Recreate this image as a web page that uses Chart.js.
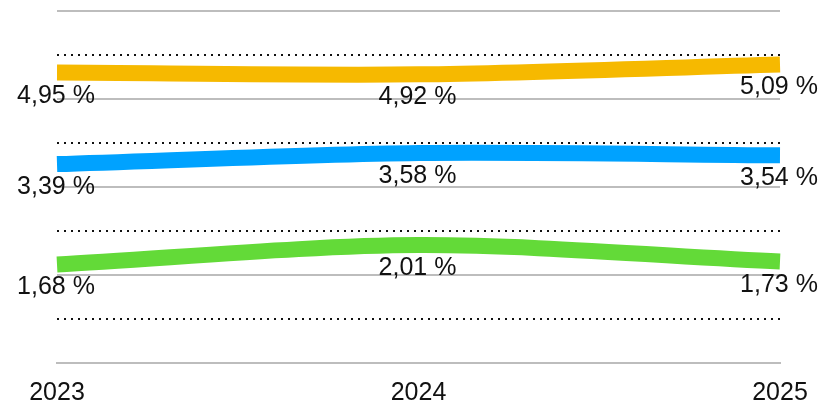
<!DOCTYPE html>
<html>
  <head>
    <meta charset="UTF-8">
    <title>Chart</title>
    <script src="https://cdn.jsdelivr.net/npm/chart.js@4.4.0/dist/chart.umd.min.js"></script>
    <style>
      body { margin: 0; background: #fff; }
      #wrap { width: 823px; height: 405px; }
    </style>
  </head>
  <body>
    <div id="wrap"><canvas id="chart"></canvas></div>
    <script>
      const years = ['2023', '2024', '2025']
      const yellowValues = [4.95, 4.92, 5.09]
      const blueValues = [3.39, 3.58, 3.54]
      const greenValues = [1.68, 2.01, 1.73]

      const fontFamily = '"Liberation Sans", Arial, Helvetica, sans-serif'

      const fmt = v => v.toFixed(2).replace('.', ',') + ' %'

      // labels under each point
      const pointLabels = {
        id: 'pointLabels',
        afterDatasetsDraw(chart) {
          const ctx = chart.ctx
          ctx.save()
          ctx.font = '25px ' + fontFamily
          ctx.fillStyle = '#111'
          ctx.textAlign = 'center'
          ctx.textBaseline = 'alphabetic'
          chart.data.datasets.forEach((ds, i) => {
            chart.getDatasetMeta(i).data.forEach((pt, j) => {
              ctx.fillText(fmt(ds.data[j]), pt.x - 1, pt.y + 30)
            })
          })
          ctx.restore()
        }
      }

      const line = (data, color) => ({
        data: data,
        borderColor: color,
        backgroundColor: color,
        borderWidth: 16,
        pointRadius: 0,
        tension: 0.3,
        fill: false
      })

      new Chart(document.getElementById('chart'), {
        type: 'line',
        data: {
          labels: years,
          datasets: [
            line(yellowValues, '#F6B900'),
            line(blueValues, '#00A2FF'),
            line(greenValues, '#63DA38')
          ]
        },
        options: {
          responsive: true,
          maintainAspectRatio: false,
          animation: false,
          layout: { padding: { left: 57, right: 43, top: 11, bottom: 0 } },
          plugins: {
            legend: { display: false },
            tooltip: { enabled: false }
          },
          scales: {
            x: {
              offset: false,
              grid: { display: false, drawTicks: false },
              border: { display: true, color: '#bdbdbd', width: 2 },
              afterFit: s => { s.height = 42 },
              ticks: {
                padding: 15,
                color: '#111',
                font: { family: fontFamily, size: 25 },
                maxRotation: 0
              }
            },
            y: {
              min: 0,
              max: 6,
              ticks: { display: false, stepSize: 0.75 },
              border: {
                display: false,
                dash: c => (Math.round(c.tick.value * 100) % 150 === 0 ? [] : [2, 5])
              },
              grid: {
                drawTicks: false,
                color: c => (Math.round(c.tick.value * 100) % 150 === 0 ? '#bdbdbd' : '#111'),
                lineWidth: 2
              }
            }
          }
        },
        plugins: [pointLabels]
      })
    </script>
  </body>
</html>
